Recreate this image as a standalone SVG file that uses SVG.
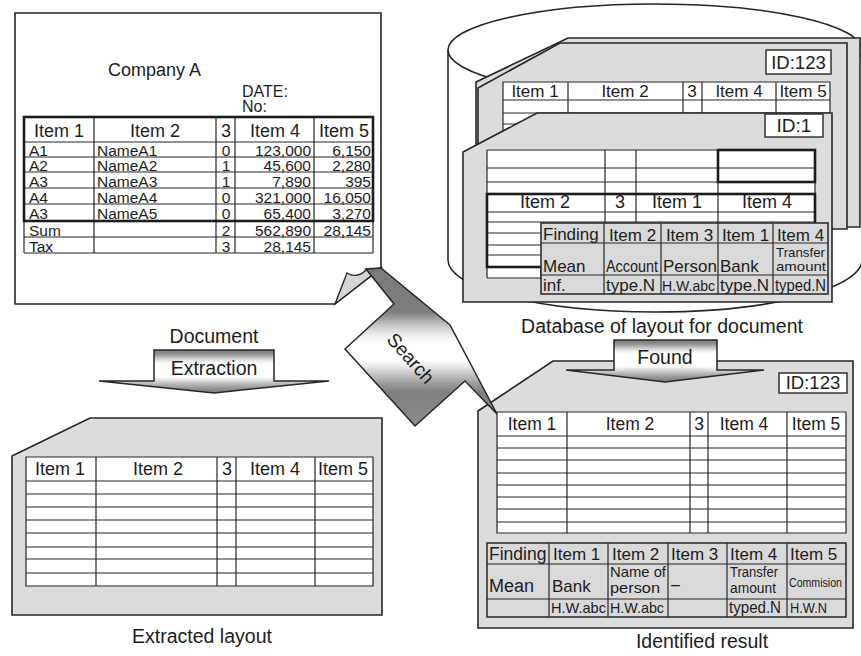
<svg xmlns="http://www.w3.org/2000/svg" width="861" height="656" viewBox="0 0 861 656">
<defs>
<style>
text{font-family:"Liberation Sans",Arial,Helvetica,sans-serif;fill:#1c1c1c}
.ln{stroke:#262626;stroke-width:1.2;fill:none}
.tk{stroke:#1c1c1c;stroke-width:2.6;fill:none}
.card{fill:#dcdcdc;stroke:#262626;stroke-width:1.6}
.wt{fill:#fff}
.gy{fill:#d9d9d9;stroke:#262626;stroke-width:1.5}
.box{fill:#fff;stroke:#262626;stroke-width:1.4}
.h{font-size:18px;text-anchor:middle}
.d{font-size:15.5px}
.r{text-anchor:end}
.m{text-anchor:middle}
.cap{font-size:19.5px;text-anchor:middle}
.arr{stroke:#262626;stroke-width:1.5;stroke-linejoin:miter}
</style>
<linearGradient id="gArr" x1="0" y1="0" x2="0" y2="1">
<stop offset="0" stop-color="#7a7a7a"/>
<stop offset="0.09" stop-color="#8e8e8e"/>
<stop offset="0.17" stop-color="#bdbdbd"/>
<stop offset="0.26" stop-color="#ececec"/>
<stop offset="0.32" stop-color="#ffffff"/>
<stop offset="0.62" stop-color="#ffffff"/>
<stop offset="0.7" stop-color="#e2e2e2"/>
<stop offset="0.8" stop-color="#b5b5b5"/>
<stop offset="0.9" stop-color="#929292"/>
<stop offset="1" stop-color="#7a7a7a"/>
</linearGradient>
<linearGradient id="gSearch" gradientUnits="userSpaceOnUse" x1="0" y1="268" x2="0" y2="426">
<stop offset="0" stop-color="#7a7a7a"/>
<stop offset="0.278" stop-color="#7d7d7d"/>
<stop offset="0.316" stop-color="#9d9d9d"/>
<stop offset="0.361" stop-color="#c5c5c5"/>
<stop offset="0.411" stop-color="#e5e5e5"/>
<stop offset="0.475" stop-color="#ffffff"/>
<stop offset="0.582" stop-color="#ffffff"/>
<stop offset="0.633" stop-color="#e0e0e0"/>
<stop offset="0.684" stop-color="#bdbdbd"/>
<stop offset="0.734" stop-color="#9a9a9a"/>
<stop offset="0.785" stop-color="#808080"/>
<stop offset="1" stop-color="#8a8a8a"/>
</linearGradient>
</defs>

<g id="document">
<path d="M15,13 H381 V268 L335,304 H15 Z" fill="#fff" stroke="#262626" stroke-width="1.6"/>
<path d="M335,304 L347,273 Q357,279 366,270 L381,268 Z" fill="#d4d4d4" stroke="#262626" stroke-width="1.4"/>
<text x="108" y="76" style="font-size:18px">Company A</text>
<text x="242" y="97" class="d" style="font-size:16px">DATE:</text>
<text x="242" y="112" class="d" style="font-size:16px">No:</text>
<rect x="24" y="117" width="349" height="136" class="wt"/>
<path class="ln" d="M24,142H373 M24,157H373 M24,172H373 M24,188H373 M24,204H373 M24,237H373 M24,253H373 M24,221V253 M373,221V253 M94,117V253 M216,117V253 M235,117V253 M314,117V253"/>
<rect class="tk" x="24" y="117" width="349" height="104"/>
<text x="59" y="137" class="h">Item 1</text>
<text x="155" y="137" class="h">Item 2</text>
<text x="226" y="137" class="h">3</text>
<text x="275" y="137" class="h">Item 4</text>
<text x="344" y="137" class="h">Item 5</text>
<g class="d">
<text x="29" y="156">A1</text><text x="97" y="156">NameA1</text><text x="226" y="156" class="m">0</text><text x="311" y="156" class="r">123,000</text><text x="371" y="156" class="r">6,150</text>
<text x="29" y="171">A2</text><text x="97" y="171">NameA2</text><text x="226" y="171" class="m">1</text><text x="311" y="171" class="r">45,600</text><text x="371" y="171" class="r">2,280</text>
<text x="29" y="187">A3</text><text x="97" y="187">NameA3</text><text x="226" y="187" class="m">1</text><text x="311" y="187" class="r">7,890</text><text x="371" y="187" class="r">395</text>
<text x="29" y="203">A4</text><text x="97" y="203">NameA4</text><text x="226" y="203" class="m">0</text><text x="311" y="203" class="r">321,000</text><text x="371" y="203" class="r">16,050</text>
<text x="29" y="219">A3</text><text x="97" y="219">NameA5</text><text x="226" y="219" class="m">0</text><text x="311" y="219" class="r">65,400</text><text x="371" y="219" class="r">3,270</text>
<text x="29" y="236">Sum</text><text x="226" y="236" class="m">2</text><text x="311" y="236" class="r">562,890</text><text x="371" y="236" class="r">28,145</text>
<text x="29" y="252">Tax</text><text x="226" y="252" class="m">3</text><text x="311" y="252" class="r">28,145</text>
</g>
</g>

<g id="database">
<path d="M448,50 V260 A207,52 0 0 0 862,260 V50" fill="#fff" stroke="#262626" stroke-width="1.6"/>
<ellipse cx="655" cy="50" rx="207" ry="46" fill="#fff" stroke="#262626" stroke-width="1.6"/>
<path class="card" d="M476,82 L568,38 H860 V227 H476 Z"/>
<g id="layout-id123">
<path class="card" d="M478,88 L560,43 H847 V229 H478 Z"/>
<rect class="wt" x="503" y="82" width="327" height="66"/>
<path class="ln" d="M503,82H830V148H503Z M503,100H830 M503,113H830 M503,124H830 M503,136H830 M568,82V148 M683,82V148 M702,82V148 M776,82V148"/>
<text x="535" y="97" class="h" style="font-size:17px">Item 1</text>
<text x="625" y="97" class="h" style="font-size:17px">Item 2</text>
<text x="692" y="97" class="h" style="font-size:17px">3</text>
<text x="739" y="97" class="h" style="font-size:17px">Item 4</text>
<text x="803" y="97" class="h" style="font-size:17px">Item 5</text>
<rect class="box" x="766" y="50" width="65" height="24"/>
<text x="798.5" y="69" class="m" style="font-size:18.5px">ID:123</text>
</g>
<g id="layout-id1">
<path class="card" d="M463,152 L537,113 H832 V302 H463 Z"/>
<rect class="box" x="765" y="114" width="58" height="23"/>
<text x="794" y="132" class="m" style="font-size:19px">ID:1</text>
<rect class="wt" x="487" y="150" width="328" height="117"/>
<rect class="wt" x="487" y="267" width="54" height="11"/>
<path class="ln" d="M487,150H815 M487,168H815 M487,182H815 M487,150V278 M815,150V194 M487,212H815 M487,222H815 M487,233H815 M487,245H815 M487,255H815 M487,278H541 M541,267V278 M605,150V267 M636,150V267 M718,150V267"/>
<rect class="tk" x="718" y="150" width="97" height="32"/>
<rect class="tk" x="487" y="194" width="328" height="73"/>
<text x="545" y="208" class="h">Item 2</text>
<text x="620" y="208" class="h">3</text>
<text x="677" y="208" class="h">Item 1</text>
<text x="767" y="208" class="h">Item 4</text>
<rect class="gy" x="541" y="223" width="287" height="71"/>
<path class="ln" d="M604,223V294 M661,223V294 M718,223V294 M773,223V294 M541,243H828 M541,275H828"/>
<g style="font-size:17px">
<text x="543" y="240">Finding</text>
<text x="632.5" y="241" class="m">Item 2</text>
<text x="689.5" y="241" class="m">Item 3</text>
<text x="745.5" y="241" class="m">Item 1</text>
<text x="800.5" y="241" class="m">Item 4</text>
<text x="543" y="272">Mean</text>
<text x="606" y="272" textLength="52" lengthAdjust="spacingAndGlyphs" style="font-size:16px">Account</text>
<text x="663" y="272">Person</text>
<text x="720" y="272">Bank</text>
<text x="776" y="257" textLength="49" lengthAdjust="spacingAndGlyphs" style="font-size:13.5px">Transfer</text>
<text x="776" y="271" textLength="50" lengthAdjust="spacingAndGlyphs" style="font-size:13.5px">amount</text>
<text x="543" y="291">inf.</text>
<text x="606" y="291">type.N</text>
<text x="662" y="291" textLength="53" lengthAdjust="spacingAndGlyphs" style="font-size:14px">H.W.abc</text>
<text x="720" y="291">type.N</text>
<text x="775" y="291" textLength="51" lengthAdjust="spacingAndGlyphs" style="font-size:16px">typed.N</text>
</g>
</g>
</g>

<g id="extracted-layout">
<path class="card" d="M12,456 L90,418 H382 V615 H12 Z"/>
<rect class="wt" x="26" y="457" width="347" height="129"/>
<path class="ln" d="M26,457H373V586H26Z M26,481H373 M26,494H373 M26,507H373 M26,520H373 M26,533H373 M26,547H373 M26,559H373 M26,573H373 M96,457V586 M217,457V586 M236,457V586 M315,457V586"/>
<text x="60" y="475" class="h">Item 1</text>
<text x="158" y="475" class="h">Item 2</text>
<text x="227" y="475" class="h">3</text>
<text x="275" y="475" class="h">Item 4</text>
<text x="343" y="475" class="h">Item 5</text>
</g>

<g id="identified-result">
<path class="card" d="M478,411 L553,361 H853 V628 H478 Z"/>
<rect class="box" x="779" y="373" width="68" height="20"/>
<text x="813" y="389" class="m" style="font-size:18.5px">ID:123</text>
<rect class="wt" x="497" y="412" width="349" height="121"/>
<path class="ln" d="M497,412H846V533H497Z M497,436H846 M497,448H846 M497,460H846 M497,473H846 M497,485H846 M497,497H846 M497,509H846 M497,522H846 M567,412V533 M690,412V533 M708,412V533 M787,412V533"/>
<text x="532" y="430" class="h" style="font-size:17.5px">Item 1</text>
<text x="630" y="430" class="h" style="font-size:17.5px">Item 2</text>
<text x="699" y="430" class="h" style="font-size:17.5px">3</text>
<text x="744" y="430" class="h" style="font-size:17.5px">Item 4</text>
<text x="816" y="430" class="h" style="font-size:17.5px">Item 5</text>
<rect class="gy" x="487" y="543" width="359" height="74"/>
<path class="ln" d="M549,543V617 M608,543V617 M668,543V617 M727,543V617 M787,543V617 M487,564H846 M487,599H846"/>
<g style="font-size:17px">
<text x="489" y="560" style="font-size:17.5px">Finding</text>
<text x="553" y="560">Item 1</text>
<text x="612" y="560">Item 2</text>
<text x="671" y="560">Item 3</text>
<text x="730" y="560">Item 4</text>
<text x="790" y="560">Item 5</text>
<text x="489" y="592" style="font-size:18px">Mean</text>
<text x="552" y="592">Bank</text>
<text x="610" y="577" textLength="56" lengthAdjust="spacingAndGlyphs" style="font-size:14.5px">Name of</text>
<text x="610" y="593" textLength="50" lengthAdjust="spacingAndGlyphs" style="font-size:15px">person</text>
<text x="671" y="590" style="font-size:16px">–</text>
<text x="730" y="577" textLength="48" lengthAdjust="spacingAndGlyphs" style="font-size:14px">Transfer</text>
<text x="730" y="593" textLength="46" lengthAdjust="spacingAndGlyphs" style="font-size:14px">amount</text>
<text x="789" y="587" textLength="53" lengthAdjust="spacingAndGlyphs" style="font-size:13px">Commision</text>
<text x="551" y="613" textLength="55" lengthAdjust="spacingAndGlyphs" style="font-size:15px">H.W.abc</text>
<text x="610" y="613" textLength="54" lengthAdjust="spacingAndGlyphs" style="font-size:15px">H.W.abc</text>
<text x="729" y="613" textLength="52" lengthAdjust="spacingAndGlyphs" style="font-size:16px">typed.N</text>
<text x="790" y="613" textLength="37" lengthAdjust="spacingAndGlyphs" style="font-size:15px">H.W.N</text>
</g>
</g>

<g id="connectors">
<g id="extraction-arrow">
<path class="arr" fill="url(#gArr)" d="M154,350 H274 V381 H329 L214,393 L99,381 H154 Z"/>
<text x="214" y="375" class="m" style="font-size:19.5px">Extraction</text>
</g>
<g id="search-arrow">
<path class="arr" fill="url(#gSearch)" d="M366,269 L394,304 L345,349 L415,426 L465,381 L497,414 L450,325 L381,268 Z"/>
<text transform="translate(411,358) rotate(48)" x="0" y="7" class="m" style="font-size:19px">Search</text>
</g>
<g id="found-arrow">
<path class="arr" fill="url(#gArr)" d="M614,340 H717 V370 H764 L665,382 L566,370 H614 Z"/>
<text x="665" y="364" class="m" style="font-size:19.5px">Found</text>
</g>
</g>

<g id="labels">
<text x="214" y="343" class="cap">Document</text>
<text x="662" y="333" class="cap">Database of layout for document</text>
<text x="202" y="643" class="cap">Extracted layout</text>
<text x="702" y="648" class="cap">Identified result</text>
</g>
</svg>
